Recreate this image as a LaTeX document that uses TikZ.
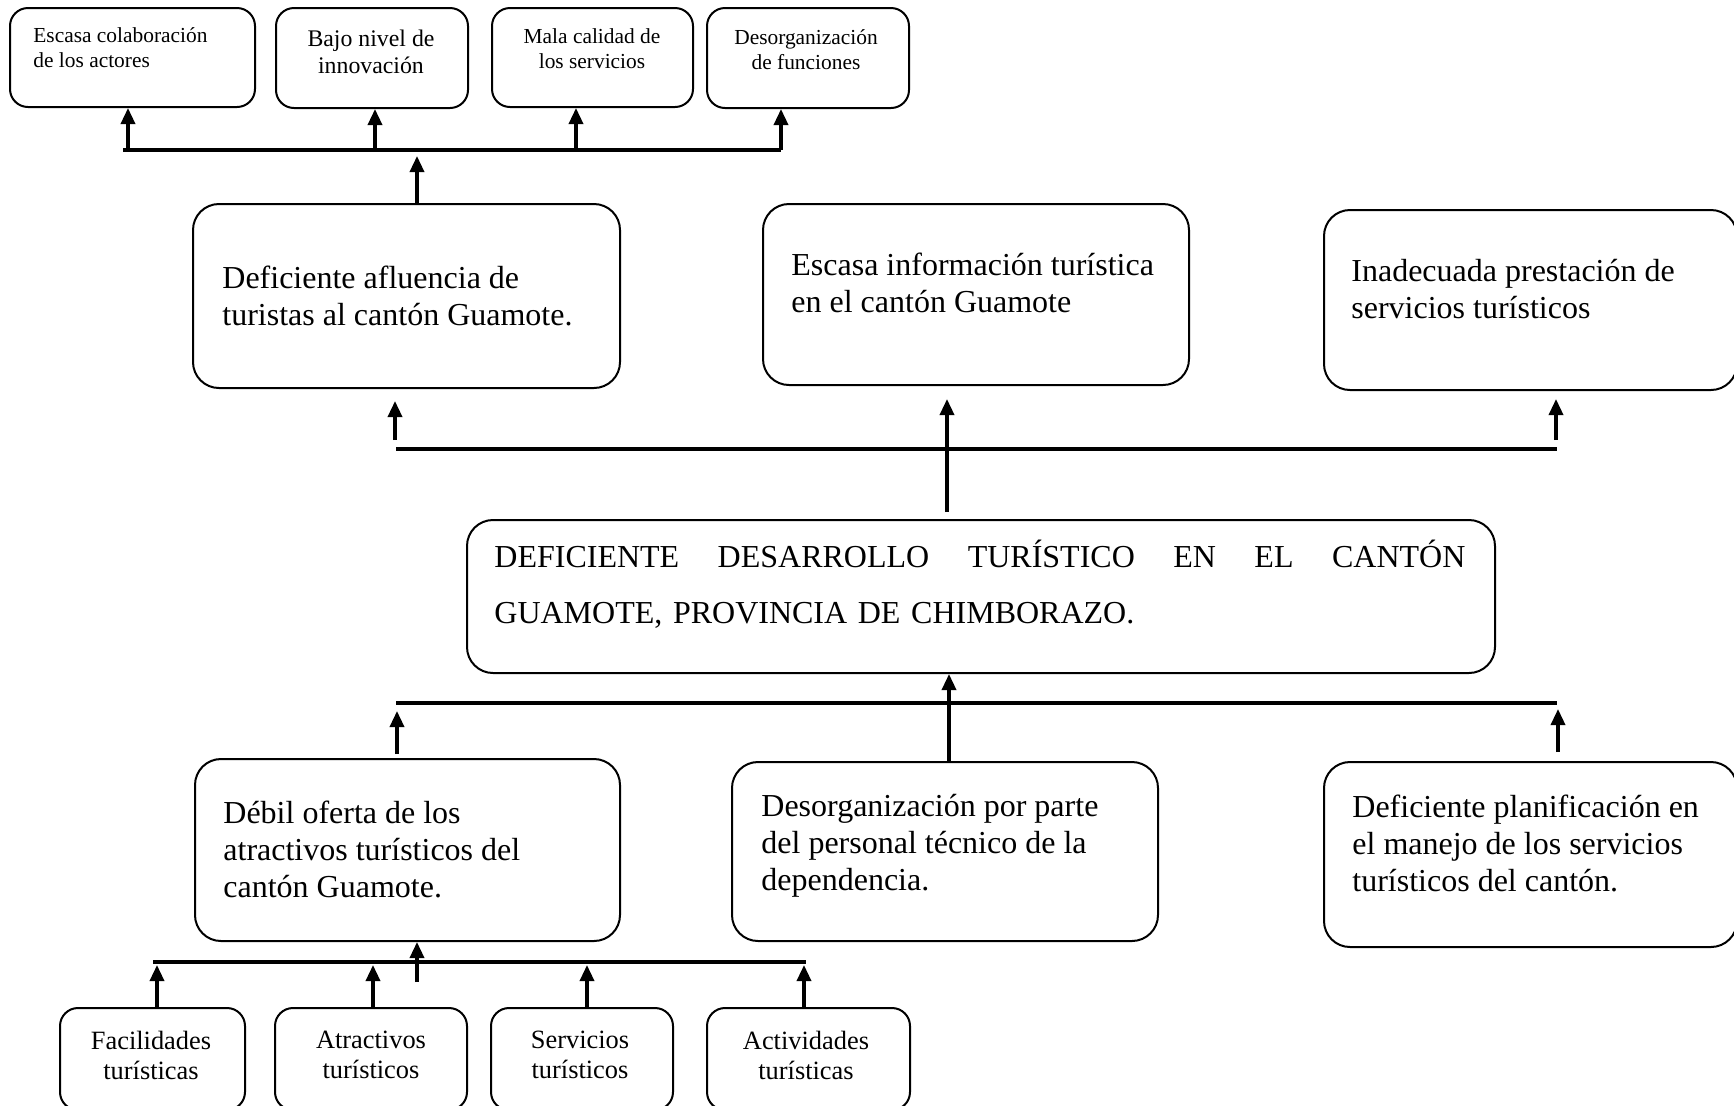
\documentclass[tikz,border=0pt]{standalone}
\usepackage{fontspec}
\setmainfont{Liberation Serif}
\usetikzlibrary{arrows.meta}
\begin{document}
\begin{tikzpicture}[x=0.5pt,y=-0.5pt,
  bigbox/.style={draw, line width=1pt, rounded corners=13pt, anchor=north west, inner sep=0pt},
  smallbox/.style={draw, line width=1pt, rounded corners=9pt, anchor=north west, inner sep=0pt},
  bar/.style={line width=2.2pt},
  arr/.style={line width=1.7pt, -{Triangle[width=7pt,length=8pt]}},
  bigtxt/.style={font=\fontsize{16}{18.5}\selectfont, inner sep=0pt, align=left, anchor=north west},
  smalltxt/.style={font=\fontsize{10.7}{12.5}\selectfont, inner sep=0pt, align=center, anchor=north},
  midtxt/.style={font=\fontsize{13.2}{15}\selectfont, inner sep=0pt, align=center, anchor=north},
]
\useasboundingbox (0,0) rectangle (1734,1105);
\clip (0,0) rectangle (1734,1105);

% ---- top small boxes (effects level 2)
\node[smallbox, minimum width=122.5pt, minimum height=49.5pt] (b1) at (9,7) {};
\node[smallbox, minimum width=96pt, minimum height=50pt] (b2) at (275,7) {};
\node[smallbox, minimum width=100.5pt, minimum height=49.5pt] (b3) at (491,7) {};
\node[smallbox, minimum width=101pt, minimum height=50pt] (b4) at (706,7) {};
\node[smalltxt, align=left, anchor=north west] (tb1) at (33,27) {Escasa colaboración\\de los actores};
\node[smalltxt, font=\fontsize{11.9}{13.3}\selectfont] (tb2) at (371,30) {Bajo nivel de\\innovación};
\node[smalltxt] (tb3) at (592,28) {Mala calidad de\\los servicios};
\node[smalltxt] (tb4) at (806,29) {Desorganización\\de funciones};

% ---- effects
\node[bigbox, minimum width=213.5pt, minimum height=92pt] (A) at (192,203) {};
\node[bigbox, minimum width=213pt, minimum height=90.5pt] (B) at (762,203) {};
\node[bigbox, minimum width=206.5pt, minimum height=90pt] (C) at (1323,209) {};
\node[bigtxt] (tA) at (222,266) {Deficiente afluencia de\\turistas al cantón Guamote.};
\node[bigtxt] (tB) at (791,253) {Escasa información turística\\en el cantón Guamote};
\node[bigtxt] (tC) at (1351,259) {Inadecuada prestación de\\servicios turísticos};

% ---- central problem
\node[bigbox, minimum width=514pt, minimum height=76.5pt] (P) at (466,519) {};
\node[bigtxt, font=\fontsize{16}{28}\selectfont, text width=485.5pt] (tP) at (494,540)
  {DEFICIENTE\hfill DESARROLLO\hfill TURÍSTICO\hfill EN\hfill EL\hfill CANTÓN\\GUAMOTE, PROVINCIA DE CHIMBORAZO.};

% ---- causes
\node[bigbox, minimum width=212.5pt, minimum height=91pt] (D) at (194,758) {};
\node[bigbox, minimum width=213pt, minimum height=89.5pt] (E) at (731,761) {};
\node[bigbox, minimum width=206.5pt, minimum height=92.5pt] (F) at (1323,761) {};
\node[bigtxt] (tD) at (223,801) {Débil oferta de los\\atractivos turísticos del\\cantón Guamote.};
\node[bigtxt] (tE) at (761,794) {Desorganización por parte\\del personal técnico de la\\dependencia.};
\node[bigtxt] (tF) at (1352,795) {Deficiente planificación en\\el manejo de los servicios\\turísticos del cantón.};

% ---- bottom small boxes (causes level 2)
\node[smallbox, minimum width=92.5pt, minimum height=51pt] (g1) at (59,1007) {};
\node[smallbox, minimum width=96pt, minimum height=51pt] (g2) at (274,1007) {};
\node[smallbox, minimum width=91pt, minimum height=51pt] (g3) at (490,1007) {};
\node[smallbox, minimum width=101.5pt, minimum height=51pt] (g4) at (706,1007) {};
\node[midtxt] (tg1) at (151,1031) {Facilidades\\turísticas};
\node[midtxt] (tg2) at (371,1031) {Atractivos\\turísticos};
\node[midtxt] (tg3) at (580,1031) {Servicios\\turísticos};
\node[midtxt] (tg4) at (806,1031) {Actividades\\turísticas};

% ---- top connectors
\coordinate (L1a) at (123,150);
\coordinate (L1b) at (781,150);
\draw[bar] (L1a) -- (L1b);
\coordinate (u1) at (128,150);
\coordinate (u2) at (375,150);
\coordinate (u3) at (576,150);
\coordinate (u4) at (781,150);
\draw[arr] (u1) -- (u1 |- b1.south);
\draw[arr] (u2) -- (u2 |- b2.south);
\draw[arr] (u3) -- (u3 |- b3.south);
\draw[arr] (u4) -- (u4 |- b4.south);
\coordinate (ua) at (417,156);
\draw[arr] (ua |- A.north) -- (ua);

% ---- middle upper connectors
\coordinate (L2a) at (396,449);
\coordinate (L2b) at (1557,449);
\draw[bar] (L2a) -- (L2b);
\coordinate (m1) at (395,440);
\coordinate (m1t) at (395,401);
\draw[arr] (m1) -- (m1t);
\coordinate (m3) at (1556,440);
\coordinate (m3t) at (1556,399);
\draw[arr] (m3) -- (m3t);
\coordinate (m2) at (947,512);
\coordinate (m2t) at (947,399);
\draw[arr] (m2) -- (m2t);

% ---- middle lower connectors
\coordinate (L3a) at (396,703);
\coordinate (L3b) at (1557,703);
\draw[bar] (L3a) -- (L3b);
\coordinate (n2) at (949,761);
\draw[arr] (n2 |- E.north) -- (n2 |- P.south);
\coordinate (n1) at (397,754);
\coordinate (n1t) at (397,711);
\draw[arr] (n1) -- (n1t);
\coordinate (n3) at (1558,752);
\coordinate (n3t) at (1558,709);
\draw[arr] (n3) -- (n3t);

% ---- bottom connectors
\coordinate (L4a) at (153,962);
\coordinate (L4b) at (806,962);
\draw[bar] (L4a) -- (L4b);
\coordinate (dd) at (417,982);
\draw[arr] (dd) -- (dd |- D.south);
\coordinate (v1) at (157,965);
\coordinate (v2) at (373,965);
\coordinate (v3) at (587,965);
\coordinate (v4) at (804,965);
\draw[arr] (v1 |- g1.north) -- (v1);
\draw[arr] (v2 |- g2.north) -- (v2);
\draw[arr] (v3 |- g3.north) -- (v3);
\draw[arr] (v4 |- g4.north) -- (v4);
\end{tikzpicture}
\end{document}
